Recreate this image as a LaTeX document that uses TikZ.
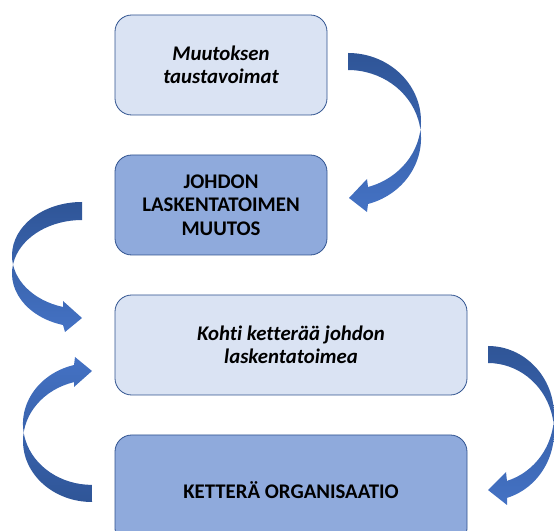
\documentclass[tikz,border=0pt]{standalone}
\usepackage{fontspec}
\setmainfont{Carlito}[Ligatures=NoCommon]
\definecolor{boxline}{RGB}{47,82,143}
\definecolor{lightfill}{RGB}{218,227,243}
\definecolor{darkfill}{RGB}{143,170,220}
\definecolor{arrdark}{RGB}{47,85,151}
\definecolor{arrlight}{RGB}{68,114,196}
\begin{document}
\begin{tikzpicture}[x=1pt,y=1pt,
  box/.style={draw=boxline, line width=0.8pt, rounded corners=16.7pt, align=center, inner sep=0pt,
    font=\fontsize{20.8}{23.5}\selectfont\bfseries},
  itbox/.style={box, font=\fontsize{20.8}{23}\selectfont\bfseries\itshape},
  lightfill/.style={fill=lightfill},
  darkfill/.style={fill=darkfill},
  arrowdown/.style={top color=arrdark, bottom color=arrlight},
  arrowup/.style={top color=arrlight, bottom color=arrdark}]
\useasboundingbox (0,0) rectangle (554,530);
\clip (0,0) rectangle (554,530);
% boxes
\node[itbox, lightfill, minimum width=212pt, minimum height=100pt] (b1) at (221,465) {Muutoksen\\taustavoimat};
\node[box, darkfill, minimum width=212pt, minimum height=100pt] (b2) at (221,325) {JOHDON\\LASKENTATOIMEN\\MUUTOS};
\node[itbox, lightfill, minimum width=352pt, minimum height=100pt] (b3) at (291,185) {Kohti ketterää johdon\\laskentatoimea};
\node[box, darkfill, minimum width=352pt, minimum height=110pt] (b4) at (291,40) {KETTERÄ ORGANISAATIO};
% curved arrows
\shade[arrowdown] (348,477) arc[start angle=90, end angle=-74.1, x radius=73, y radius=68.3]
  -- (367,351) -- (349,332) -- (367,318) -- (368,326)
  arc[start angle=-74.1, end angle=90, x radius=73, y radius=68.3] -- cycle;
\shade[arrowdown] (82,328) arc[start angle=90, end angle=254.25, x radius=70, y radius=53.5]
  -- (63,229) -- (82,212) -- (65,198) -- (63,205)
  arc[start angle=254.25, end angle=90, x radius=70, y radius=53.5] -- cycle;
\shade[arrowdown] (488,184) arc[start angle=90, end angle=-73.3, x radius=66, y radius=68.9]
  -- (506,58) -- (488,40) -- (507,25) -- (507,32.1)
  arc[start angle=-73.3, end angle=90, x radius=66, y radius=68.9] -- cycle;
\shade[arrowup] (92,28) arc[start angle=270, end angle=105.1, x radius=69, y radius=61]
  -- (74,143) -- (92,159) -- (75,173) -- (74,165)
  arc[start angle=105.1, end angle=270, x radius=69, y radius=61] -- cycle;
\end{tikzpicture}
\end{document}
